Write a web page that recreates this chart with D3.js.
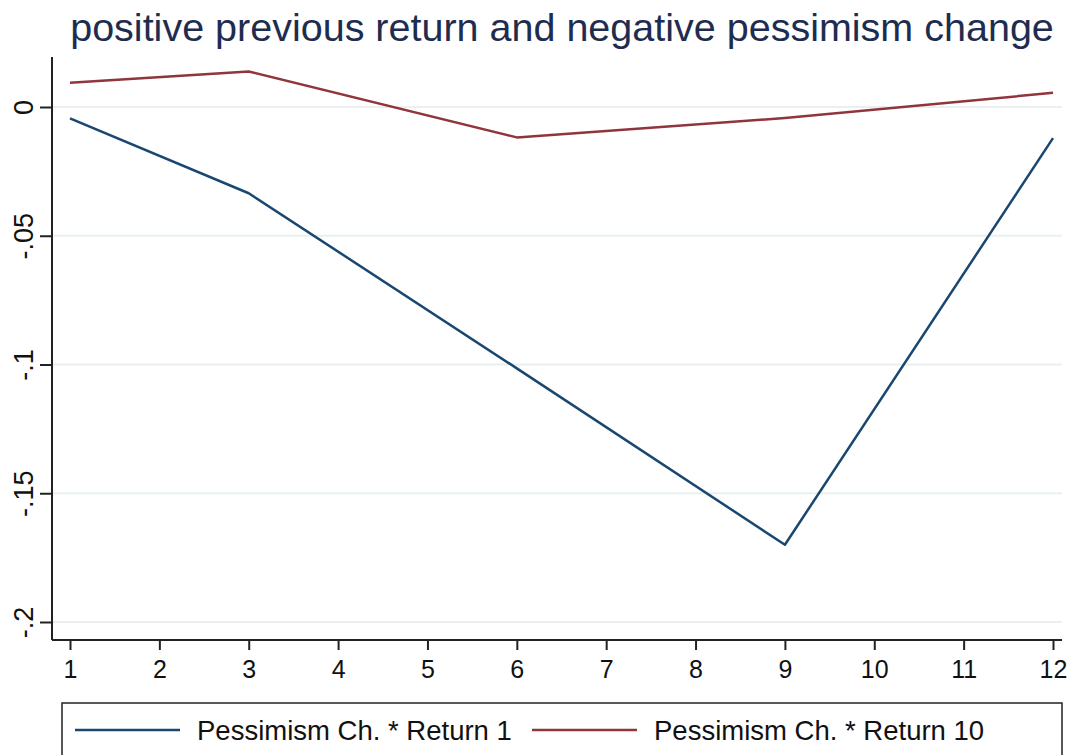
<!DOCTYPE html>
<html lang="en">
<head>
<meta charset="UTF-8">
<title>positive previous return and negative pessimism change</title>
<script src="https://d3js.org/d3.v7.min.js"></script>
<style>
    body { margin: 0; background: #fff; }
    svg text { font-family: "Liberation Sans", Arial, sans-serif; }
</style>
</head>
<body>
<div id="chart"></div>
<script>
    // values
    const horizons = [1, 3, 6, 9, 12];
    const return1 = [-0.0044, -0.0335, -0.1015, -0.1700, -0.0121];
    const return10 = [0.0094, 0.0138, -0.0118, -0.0043, 0.0055];
    const xTicks = [1, 2, 3, 4, 5, 6, 7, 8, 9, 10, 11, 12];
    const yTicks = [0, -0.05, -0.1, -0.15, -0.2];
    const yTickLabels = ["0", "-.05", "-.1", "-.15", "-.2"];
    const seriesNames = ["Pessimism Ch. * Return 1", "Pessimism Ch. * Return 10"];
    const seriesColors = ["#1a476f", "#90353b"];

    const width = 1073, height = 755;

    const svg = d3.select("#chart").append("svg")
        .attr("width", width)
        .attr("height", height);

    const x = d3.scaleLinear().domain([1, 12]).range([70, 1053]);
    const y = d3.scaleLinear().domain([0, -0.2]).range([107, 622]);

    // gridlines
    svg.append("g")
        .selectAll("line")
        .data(yTicks)
        .join("line")
        .attr("x1", 53).attr("x2", 1062)
        .attr("y1", d => y(d)).attr("y2", d => y(d))
        .attr("stroke", "#eaf0f0")
        .attr("stroke-width", 2);

    // title
    svg.append("text")
        .attr("x", 562)
        .attr("y", 41)
        .attr("text-anchor", "middle")
        .style("font-size", "39.5px")
        .attr("fill", "#1e2d4f")
        .text("positive previous return and negative pessimism change");

    // y axis
    const yAxis = svg.append("g")
        .attr("transform", "translate(52,0)")
        .call(d3.axisLeft(y).tickValues(yTicks).tickSize(12).tickPadding(0)
            .tickFormat((d, i) => yTickLabels[i]));
    yAxis.select(".domain").attr("d", "M0,57V640").attr("stroke", "#222").attr("stroke-width", 2);
    yAxis.selectAll(".tick line").attr("stroke", "#222").attr("stroke-width", 2);
    yAxis.selectAll(".tick text")
        .style("font-size", "27px")
        .attr("fill", "#111")
        .attr("x", 0).attr("y", 0)
        .attr("text-anchor", "middle")
        .attr("transform", "translate(-28,0) rotate(-90)")
        .attr("dy", "0.35em");

    // x axis
    const xAxis = svg.append("g")
        .attr("transform", "translate(0,640)")
        .call(d3.axisBottom(x).tickValues(xTicks).tickSize(10).tickPadding(10)
            .tickFormat(d3.format("d")));
    xAxis.select(".domain").attr("d", "M52,0H1062").attr("stroke", "#222").attr("stroke-width", 2);
    xAxis.selectAll(".tick line").attr("stroke", "#222").attr("stroke-width", 2);
    xAxis.selectAll(".tick text").style("font-size", "25px").attr("fill", "#111");

    // lines
    const line = d3.line()
        .x(d => x(d[0]))
        .y(d => y(d[1]));

    [return1, return10].forEach((vals, i) => {
        svg.append("path")
            .datum(horizons.map((h, j) => [h, vals[j]]))
            .attr("d", line)
            .attr("fill", "none")
            .attr("stroke", seriesColors[i])
            .attr("stroke-width", 2.5)
            .attr("stroke-linejoin", "round");
    });

    // legend
    const legend = svg.append("g");
    legend.append("rect")
        .attr("x", 62).attr("y", 703)
        .attr("width", 1000).attr("height", 60)
        .attr("fill", "none")
        .attr("stroke", "#222")
        .attr("stroke-width", 1.5);

    const legendX = [75, 532];
    seriesNames.forEach((name, i) => {
        legend.append("line")
            .attr("x1", legendX[i]).attr("x2", legendX[i] + 105)
            .attr("y1", 730).attr("y2", 730)
            .attr("stroke", seriesColors[i])
            .attr("stroke-width", 2.5);
        legend.append("text")
            .attr("x", legendX[i] + 122)
            .attr("y", 730)
            .attr("dy", "0.35em")
            .style("font-size", "27.5px")
            .attr("fill", "#111")
            .text(name);
    });
</script>
</body>
</html>
